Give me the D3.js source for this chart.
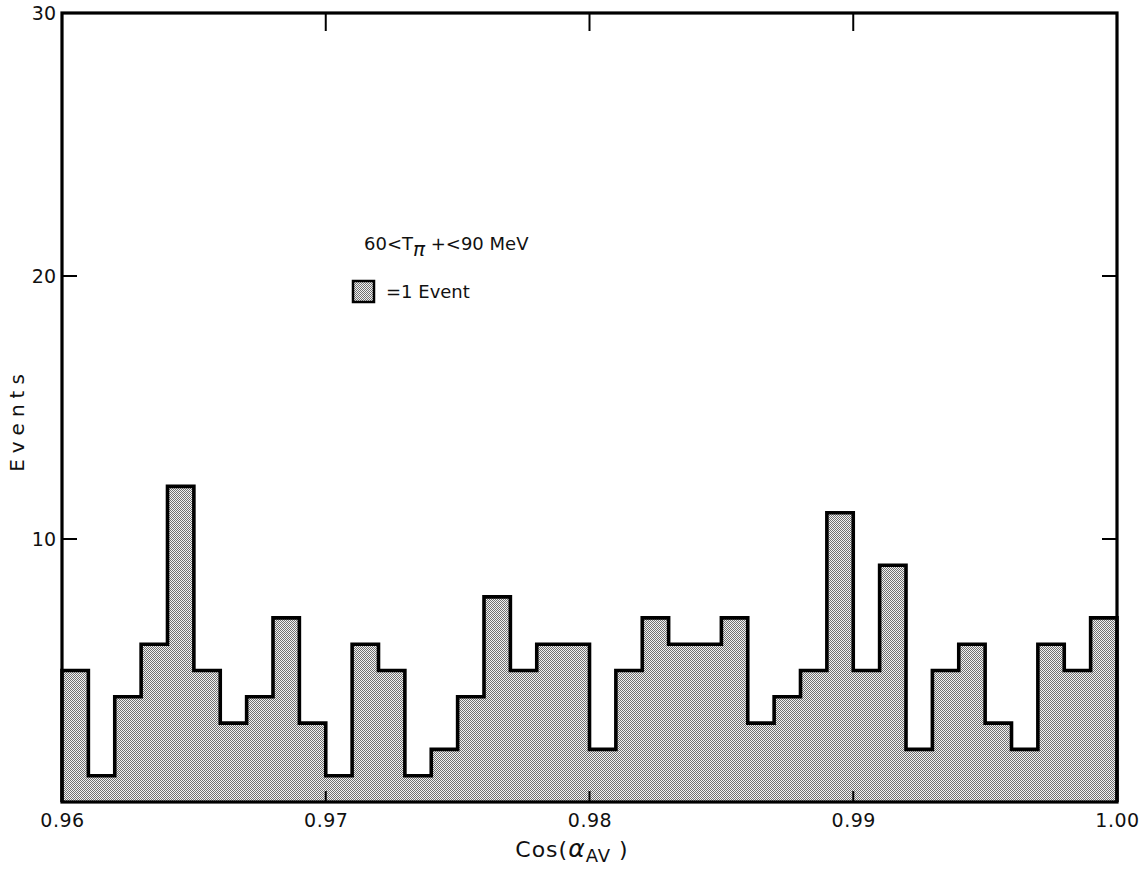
<!DOCTYPE html>
<html><head><meta charset="utf-8">
<script src="https://cdn.jsdelivr.net/npm/d3@7"></script>
<style>body{margin:0;background:#fff}svg{display:block}text{font-family:"DejaVu Sans",Lato,sans-serif;fill:#111}</style>
</head><body>
<script>
const binStarts = d3.range(40).map(i => +(0.960 + i*0.001).toFixed(3));
const counts = [5,1,4,6,12,5,3,4,7,3, 1,6,5,1,2,4,7.8,5,6,6, 2,5,7,6,6,7,3,4,5,11, 5,9,2,5,6,3,2,6,5,7];
const binWidth = 0.001;
const xTicks = [0.96,0.97,0.98,0.99,1.00];
const xTickLabels = ["0.96","0.97","0.98","0.99","1.00"];
const yTicks = [10,20,30];

const W=1143,H=869;
const m={l:62,r:26,t:13,b:67};
const svg=d3.select("body").append("svg").attr("width",W).attr("height",H);
const x=d3.scaleLinear().domain([0.96,1.0]).range([m.l,W-m.r]);
const y=d3.scaleLinear().domain([0,30]).range([H-m.b,m.t]);

const defs=svg.append("defs");
const pat=defs.append("pattern").attr("id","dots").attr("width",2).attr("height",2).attr("patternUnits","userSpaceOnUse");
pat.append("rect").attr("width",2).attr("height",2).attr("fill","#f2f2f2");
pat.append("rect").attr("x",0).attr("y",0).attr("width",1).attr("height",1).attr("fill","#707070");
pat.append("rect").attr("x",1).attr("y",1).attr("width",1).attr("height",1).attr("fill","#707070");

// step data
const pts=[];
binStarts.forEach((b,i)=>{pts.push([b,counts[i]]);pts.push([b+binWidth,counts[i]]);});
const area=d3.area().x(d=>x(d[0])).y0(y(0)).y1(d=>y(d[1]));
svg.append("path").datum(pts).attr("d",area).attr("fill","url(#dots)");
const line=d3.line().x(d=>x(d[0])).y(d=>y(d[1]));
const outline=[[0.96,0],...pts,[1.0,0]];
svg.append("path").datum(outline).attr("d",line).attr("fill","none").attr("stroke","#000").attr("stroke-width",3.6).attr("stroke-linejoin","miter");

// frame
svg.append("rect").attr("x",x(0.96)).attr("y",y(30)).attr("width",x(1)-x(0.96)).attr("height",y(0)-y(30))
  .attr("fill","none").attr("stroke","#000").attr("stroke-width",3.2);

// axes
const gB=svg.append("g").attr("transform",`translate(0,${y(0)})`)
  .call(d3.axisBottom(x).tickValues(xTicks).tickFormat((d,i)=>xTickLabels[i]).tickSize(0).tickPadding(12));
gB.select(".domain").remove();
gB.selectAll("text").attr("font-size",19).style("letter-spacing","0.5px");
svg.append("g").selectAll("line").data(xTicks.slice(1,4)).join("line")
  .attr("x1",d=>x(d)).attr("x2",d=>x(d)).attr("y1",y(0)).attr("y2",y(0)-11).attr("stroke","#000").attr("stroke-width",2);
svg.append("g").selectAll("line").data(xTicks.slice(1,4)).join("line")
  .attr("x1",d=>x(d)).attr("x2",d=>x(d)).attr("y1",y(30)).attr("y2",y(30)+18).attr("stroke","#000").attr("stroke-width",2);

const gL=svg.append("g").attr("transform",`translate(${x(0.96)},0)`)
  .call(d3.axisLeft(y).tickValues(yTicks).tickSize(0).tickPadding(6));
gL.select(".domain").remove();
gL.selectAll("text").attr("font-size",19);
svg.append("g").selectAll("line").data(yTicks.slice(0,2)).join("line")
  .attr("x1",x(0.96)).attr("x2",x(0.96)+15).attr("y1",d=>y(d)).attr("y2",d=>y(d)).attr("stroke","#000").attr("stroke-width",2);
svg.append("g").selectAll("line").data(yTicks.slice(0,2)).join("line")
  .attr("x1",x(1)).attr("x2",x(1)-15).attr("y1",d=>y(d)).attr("y2",d=>y(d)).attr("stroke","#000").attr("stroke-width",2);

// axis titles
const xt=svg.append("text").attr("x",572).attr("y",857).attr("text-anchor","middle").attr("font-size",22).style("letter-spacing","1px");
xt.append("tspan").text("Cos(");
xt.append("tspan").text("α").attr("font-style","italic").attr("font-size",25);
xt.append("tspan").text("AV").attr("dy",5).attr("font-size",18);
xt.append("tspan").text("  )").attr("dy",-5);
svg.append("text").attr("transform","translate(24,420) rotate(-90)").attr("text-anchor","middle")
  .attr("font-size",20).style("letter-spacing","6px").text("Events");

// annotation
const an=svg.append("text").attr("x",364).attr("y",250).attr("font-size",18);
an.append("tspan").text("60<T");
an.append("tspan").text("π").attr("dy",6).attr("font-style","italic").attr("font-size",20);
an.append("tspan").text(" +<90 MeV").attr("dy",-6);
svg.append("rect").attr("x",353).attr("y",281).attr("width",21).attr("height",21).attr("fill","url(#dots)").attr("stroke","#000").attr("stroke-width",2.5);
svg.append("text").attr("x",386).attr("y",298).attr("font-size",18).text("=1 Event");
</script>
</body></html>
